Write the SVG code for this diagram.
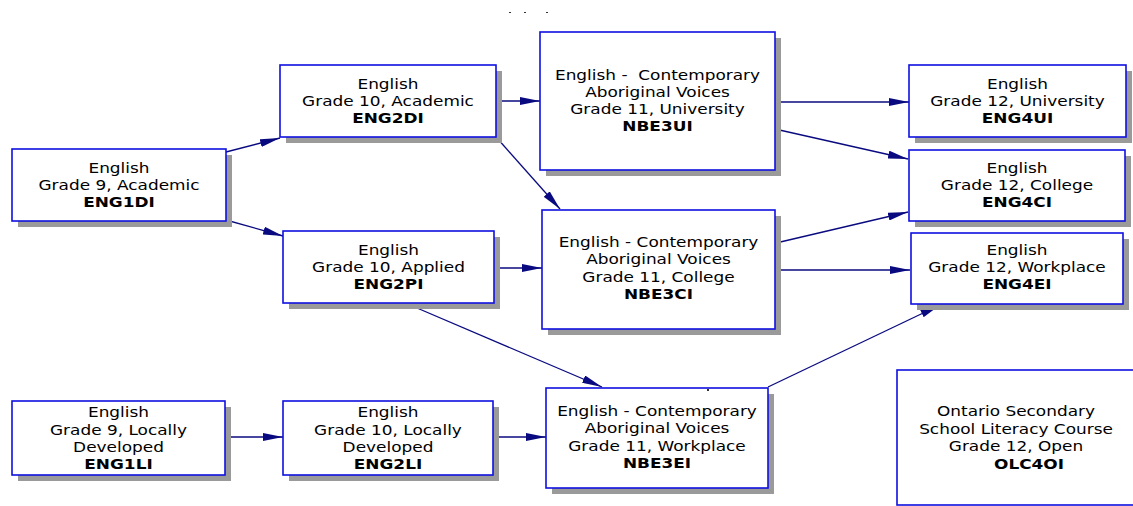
<svg xmlns="http://www.w3.org/2000/svg" width="1133" height="506" viewBox="0 0 1133 506">
  <style>
    .shadow { fill: #9a9a9a; }
    .box { fill: #ffffff; stroke: #1010e0; stroke-width: 1.6; }
    .t { font-family: "DejaVu Sans", Verdana, sans-serif; font-size: 14px; text-anchor: middle; fill: #000000; white-space: pre; }
    .b { font-weight: bold; }
    .link { fill: none; stroke: #0a0a80; stroke-width: 1.3; marker-end: url(#head); }
    .speck { fill: #333333; }
  </style>
  <defs>
    <marker id="head" markerUnits="userSpaceOnUse" markerWidth="20" markerHeight="8" refX="20" refY="4" orient="auto">
      <path d="M0,0 L20,4 L0,8 Z" fill="#0a0a80"/>
    </marker>
  </defs>

  <rect width="1133" height="506" fill="#ffffff"/>

  <!-- stray marks -->
  <rect class="speck" x="509" y="12" width="2" height="1"/>
  <rect class="speck" x="524" y="12" width="2" height="1"/>
  <rect class="speck" x="546" y="12" width="2" height="1"/>

  <!-- connectors -->
  <g id="connectors">
    <line class="link" x1="226" y1="152" x2="280" y2="138"/>
    <line class="link" x1="226" y1="220" x2="283" y2="236"/>
    <line class="link" x1="496" y1="101" x2="540" y2="101"/>
    <line class="link" x1="497" y1="138" x2="560" y2="209"/>
    <line class="link" x1="775" y1="102" x2="909" y2="102"/>
    <line class="link" x1="775" y1="129" x2="908" y2="159"/>
    <line class="link" x1="776" y1="243" x2="908" y2="212"/>
    <line class="link" x1="775" y1="270" x2="910" y2="270"/>
    <line class="link" x1="494" y1="268" x2="542" y2="268"/>
    <line class="link" x1="417" y1="308" x2="602" y2="387"/>
    <line class="link" x1="768" y1="387" x2="940" y2="305"/>
    <line class="link" x1="225" y1="437" x2="283" y2="437"/>
    <line class="link" x1="493" y1="437" x2="546" y2="437"/>
  </g>

  <!-- Grade 9 Academic -->
  <g id="eng1di">
    <rect class="shadow" x="18" y="155" width="214" height="72"/>
    <rect class="box" x="12" y="149" width="214" height="72"/>
    <g transform="translate(119,0) scale(1.21,1)">
      <text class="t" x="0" y="173">English</text>
      <text class="t" x="0" y="190">Grade 9, Academic</text>
      <text class="t b" x="0" y="207">ENG1DI</text>
    </g>
  </g>

  <!-- Grade 10 Academic -->
  <g id="eng2di">
    <rect class="shadow" x="286" y="71" width="216" height="72"/>
    <rect class="box" x="280" y="65" width="216" height="72"/>
    <g transform="translate(388,0) scale(1.21,1)">
      <text class="t" x="0" y="89">English</text>
      <text class="t" x="0" y="106">Grade 10, Academic</text>
      <text class="t b" x="0" y="123">ENG2DI</text>
    </g>
  </g>

  <!-- Grade 11 University -->
  <g id="nbe3ui">
    <rect class="shadow" x="546" y="38" width="235" height="138"/>
    <rect class="box" x="540" y="32" width="235" height="138"/>
    <g transform="translate(657.5,0) scale(1.21,1)">
      <text class="t" x="0" y="80">English -  Contemporary</text>
      <text class="t" x="0" y="97">Aboriginal Voices</text>
      <text class="t" x="0" y="114">Grade 11, University</text>
      <text class="t b" x="0" y="131">NBE3UI</text>
    </g>
  </g>

  <!-- Grade 12 University -->
  <g id="eng4ui">
    <rect class="shadow" x="915" y="71" width="217" height="72"/>
    <rect class="box" x="909" y="65" width="217" height="72"/>
    <g transform="translate(1017.5,0) scale(1.21,1)">
      <text class="t" x="0" y="89">English</text>
      <text class="t" x="0" y="106">Grade 12, University</text>
      <text class="t b" x="0" y="123">ENG4UI</text>
    </g>
  </g>

  <!-- Grade 12 College -->
  <g id="eng4ci">
    <rect class="shadow" x="915" y="156" width="216" height="71"/>
    <rect class="box" x="909" y="150" width="216" height="71"/>
    <g transform="translate(1017,0) scale(1.21,1)">
      <text class="t" x="0" y="173">English</text>
      <text class="t" x="0" y="190">Grade 12, College</text>
      <text class="t b" x="0" y="207">ENG4CI</text>
    </g>
  </g>

  <!-- Grade 10 Applied -->
  <g id="eng2pi">
    <rect class="shadow" x="289" y="237" width="211" height="72"/>
    <rect class="box" x="283" y="231" width="211" height="72"/>
    <g transform="translate(388.5,0) scale(1.21,1)">
      <text class="t" x="0" y="255">English</text>
      <text class="t" x="0" y="272">Grade 10, Applied</text>
      <text class="t b" x="0" y="289">ENG2PI</text>
    </g>
  </g>

  <!-- Grade 11 College -->
  <g id="nbe3ci">
    <rect class="shadow" x="548" y="216" width="233" height="119"/>
    <rect class="box" x="542" y="210" width="233" height="119"/>
    <g transform="translate(658.5,0) scale(1.21,1)">
      <text class="t" x="0" y="247">English - Contemporary</text>
      <text class="t" x="0" y="264">Aboriginal Voices</text>
      <text class="t" x="0" y="282">Grade 11, College</text>
      <text class="t b" x="0" y="299">NBE3CI</text>
    </g>
  </g>

  <!-- Grade 12 Workplace -->
  <g id="eng4ei">
    <rect class="shadow" x="917" y="239" width="212" height="71"/>
    <rect class="box" x="911" y="233" width="212" height="71"/>
    <g transform="translate(1017,0) scale(1.21,1)">
      <text class="t" x="0" y="255">English</text>
      <text class="t" x="0" y="272">Grade 12, Workplace</text>
      <text class="t b" x="0" y="289">ENG4EI</text>
    </g>
  </g>

  <!-- Grade 9 Locally Developed -->
  <g id="eng1li">
    <rect class="shadow" x="18" y="407" width="213" height="74"/>
    <rect class="box" x="12" y="401" width="213" height="74"/>
    <g transform="translate(118.5,0) scale(1.21,1)">
      <text class="t" x="0" y="417">English</text>
      <text class="t" x="0" y="435">Grade 9, Locally</text>
      <text class="t" x="0" y="452">Developed</text>
      <text class="t b" x="0" y="469">ENG1LI</text>
    </g>
  </g>

  <!-- Grade 10 Locally Developed -->
  <g id="eng2li">
    <rect class="shadow" x="289" y="407" width="210" height="74"/>
    <rect class="box" x="283" y="401" width="210" height="74"/>
    <g transform="translate(388,0) scale(1.21,1)">
      <text class="t" x="0" y="417">English</text>
      <text class="t" x="0" y="435">Grade 10, Locally</text>
      <text class="t" x="0" y="452">Developed</text>
      <text class="t b" x="0" y="469">ENG2LI</text>
    </g>
  </g>

  <!-- Grade 11 Workplace -->
  <g id="nbe3ei">
    <rect class="shadow" x="552" y="394" width="222" height="100"/>
    <rect class="box" x="546" y="388" width="222" height="100"/>
    <rect class="speck" x="707" y="389" width="2" height="2" fill="#555555"/>
    <g transform="translate(657,0) scale(1.21,1)">
      <text class="t" x="0" y="416">English - Contemporary</text>
      <text class="t" x="0" y="433">Aboriginal Voices</text>
      <text class="t" x="0" y="451">Grade 11, Workplace</text>
      <text class="t b" x="0" y="468">NBE3EI</text>
    </g>
  </g>

  <!-- Literacy course -->
  <g id="olc4oi">
    <rect class="box" x="897" y="370" width="260" height="135"/>
    <g transform="translate(1016,0) scale(1.21,1)">
      <text class="t" x="0" y="416">Ontario Secondary</text>
      <text class="t" x="0" y="434">School Literacy Course</text>
      <text class="t" x="0" y="451">Grade 12, Open</text>
    </g>
    <g transform="translate(1029,0) scale(1.21,1)">
      <text class="t b" x="0" y="469">OLC4OI</text>
    </g>
  </g>
</svg>
